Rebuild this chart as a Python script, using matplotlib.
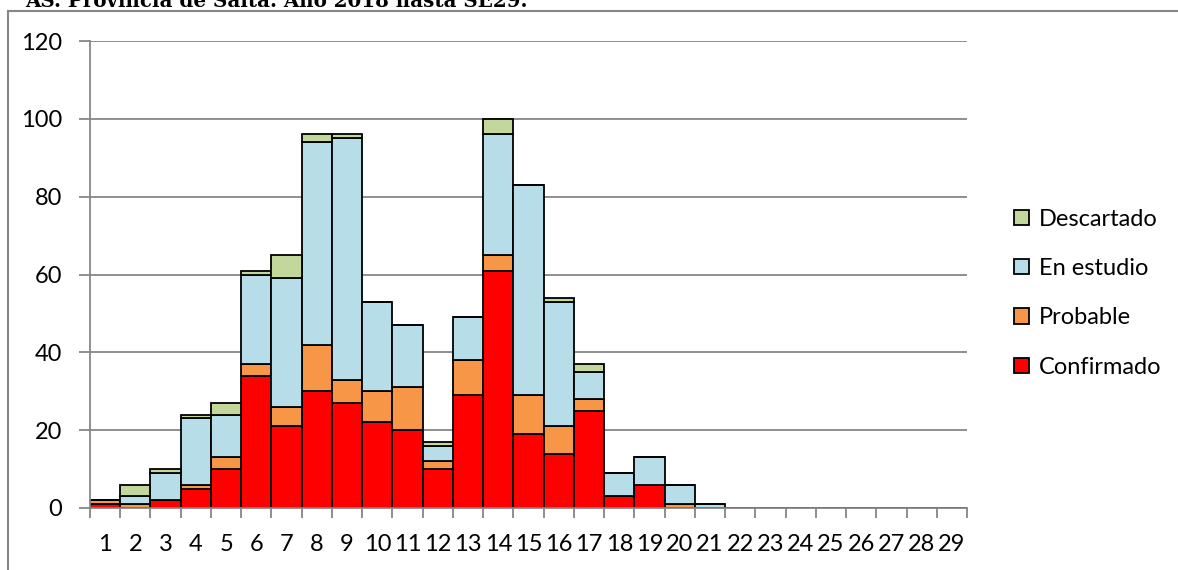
import matplotlib.pyplot as plt
import matplotlib.patches as mpatches
from matplotlib.lines import Line2D
import numpy as np

weeks = list(range(1, 30))
confirmado = [1, 0, 2, 5, 10, 34, 21, 30, 27, 22, 20, 10, 29, 61, 19, 14, 25, 3, 6, 0, 0,
              0, 0, 0, 0, 0, 0, 0, 0]
probable = [1, 1, 0, 1, 3, 3, 5, 12, 6, 8, 11, 2, 9, 4, 10, 7, 3, 0, 0, 1, 0,
            0, 0, 0, 0, 0, 0, 0, 0]
en_estudio = [0, 2, 7, 17, 11, 23, 33, 52, 62, 23, 16, 4, 11, 31, 54, 32, 7, 6, 7, 5, 1,
              0, 0, 0, 0, 0, 0, 0, 0]
descartado = [0, 3, 1, 1, 3, 1, 6, 2, 1, 0, 0, 1, 0, 4, 0, 1, 2, 0, 0, 0, 0,
              0, 0, 0, 0, 0, 0, 0, 0]

series = ["Confirmado", "Probable", "En estudio", "Descartado"]
colors = ["#FF0000", "#F79646", "#B7DDE8", "#C3D69B"]
title = "AS. Provincia de Salta. Año 2018 hasta SE29."

grey = "#868686"
W, H = 1178, 570

fig = plt.figure(figsize=(W / 100, H / 100), dpi=100)
ax = fig.add_axes([90 / W, 1 - 508 / H, (967 - 90) / W, (508 - 41) / H])

x = np.array(weeks)
bottom = np.zeros(len(weeks))
handles = []
for name, vals, c in zip(series, [confirmado, probable, en_estudio, descartado], colors):
    v = np.array(vals, dtype=float)
    ax.bar(x, v, width=1.0, bottom=bottom, color=c, edgecolor="black",
           linewidth=1.3, zorder=3)
    bottom += v
    handles.append(mpatches.Patch(facecolor=c, edgecolor="black", linewidth=1.3, label=name))

ax.set_xlim(0.5, 29.5)
ax.set_ylim(0, 120)
ax.set_yticks(range(0, 121, 20))
ax.set_xticks(x)
ax.set_xticklabels([str(w) for w in weeks])
ax.set_xticks(np.arange(0.5, 30, 1), minor=True)

ax.grid(axis="y", color=grey, linewidth=1.3, zorder=0)
for s in ["top", "right"]:
    ax.spines[s].set_visible(False)
for s in ["left", "bottom"]:
    ax.spines[s].set_color(grey)
    ax.spines[s].set_linewidth(1.3)
    ax.spines[s].set_zorder(4)

ax.tick_params(axis="y", length=8, width=1.3, color=grey, pad=12,
               labelsize=17, labelfontfamily="Lato")
ax.tick_params(axis="x", which="major", length=0, pad=19,
               labelsize=17, labelfontfamily="Lato")
ax.tick_params(axis="x", which="minor", length=7, width=1.3, color=grey)

fig.legend(handles=handles[::-1], loc="center left",
           bbox_to_anchor=(1005 / W, 1 - 293 / H), frameon=False,
           prop={"family": "Lato", "size": 17},
           handlelength=0.62, handleheight=0.62, handletextpad=0.4,
           labelspacing=1.2, borderaxespad=0)

# outer chart frame, cut by the page edge
fig.add_artist(Line2D([8 / W, 8 / W], [0, 1 - 11 / H], color=grey, linewidth=1.5))
fig.add_artist(Line2D([8 / W, 1], [1 - 11 / H, 1 - 11 / H], color=grey, linewidth=1.5))

fig.text(528 / W, 1 - 7 / H, title, ha="right", va="baseline",
         family="DejaVu Serif", fontweight="bold", fontsize=14.3)

fig.savefig("out.png", dpi=100)
